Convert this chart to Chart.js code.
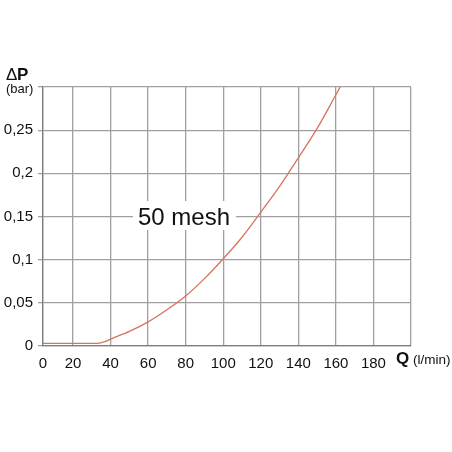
<!DOCTYPE html>
<html>
<head>
<meta charset="utf-8">
<script src="https://cdn.jsdelivr.net/npm/chart.js@4/dist/chart.umd.min.js"></script>
<style>
  body { margin: 0; background: #fff; }
  canvas { display: block; }
</style>
</head>
<body>
<canvas id="dpChart" width="452" height="452"></canvas>
<script>
// flow Q (l/min) and pressure drop (bar)
var flowValues = [0, 20, 33, 37, 40, 50, 60, 70, 80, 90, 100, 110, 120, 130, 140, 150, 160, 162.3];
var dpValues   = [0.003, 0.003, 0.003, 0.005, 0.008, 0.017, 0.028, 0.042, 0.058, 0.078, 0.101, 0.126, 0.155, 0.185, 0.218, 0.252, 0.291, 0.3];

var xTickValues = [0, 20, 40, 60, 80, 100, 120, 140, 160, 180, 200];
var xTickLabels = ['0', '20', '40', '60', '80', '100', '120', '140', '160', '180', ''];
var yTickLabels = ['0', '0,05', '0,1', '0,15', '0,2', '0,25', ''];

var curveLabel = '50 mesh';
var FONT = "'Liberation Sans', Arial, sans-serif";

// the first column of the original grid is narrower than the others
var X_START = 4;

var textPlugin = {
    id: 'texts',
    beforeDatasetsDraw: function(chart) {
        var ctx = chart.ctx;
        ctx.save();
        ctx.fillStyle = '#fff';
        ctx.fillRect(133, 201, 103, 29);
        ctx.fillStyle = '#111';
        ctx.font = '24px ' + FONT;
        ctx.textBaseline = 'alphabetic';
        ctx.fillText(curveLabel, 138, 224.5);
        ctx.restore();
    },
    afterDraw: function(chart) {
        var ctx = chart.ctx;
        ctx.save();
        ctx.fillStyle = '#111';
        ctx.textBaseline = 'alphabetic';
        ctx.font = '17px ' + FONT;
        ctx.fillText('\u0394', 6, 80);
        ctx.font = 'bold 17px ' + FONT;
        ctx.fillText('P', 17, 80);
        ctx.font = '13px ' + FONT;
        ctx.fillText('(bar)', 6, 93);
        ctx.font = 'bold 17px ' + FONT;
        ctx.fillText('Q', 396, 364);
        ctx.font = '13.5px ' + FONT;
        ctx.fillText('(l/min)', 413, 364);
        ctx.restore();
    }
};

var ctx = document.getElementById('dpChart').getContext('2d');
var chart = new Chart(ctx, {
    type: 'line',
    data: {
        datasets: [{
            data: flowValues.map(function(q, i) { return { x: q, y: dpValues[i] }; }),
            borderColor: '#d6735f',
            borderWidth: 1.3,
            pointRadius: 0,
            cubicInterpolationMode: 'monotone',
            fill: false
        }]
    },
    options: {
        responsive: false,
        animation: false,
        layout: { padding: { top: 87, right: 41, bottom: 76, left: 0 } },
        plugins: { legend: { display: false }, tooltip: { enabled: false } },
        scales: {
            x: {
                type: 'linear',
                min: X_START,
                max: 200,
                afterBuildTicks: function(scale) {
                    scale.ticks = xTickValues.map(function(v) { return { value: Math.max(v, X_START) }; });
                },
                afterFit: function(scale) { scale.height = 30; },
                grid: { color: '#a0a0a0', lineWidth: 1.3, drawTicks: false },
                border: { color: '#7d7d7d', width: 1.3 },
                ticks: {
                    padding: 9,
                    color: '#111',
                    font: { family: FONT, size: 15 },
                    maxRotation: 0,
                    autoSkip: false,
                    callback: function(v, i) { return xTickLabels[i]; }
                }
            },
            y: {
                min: 0,
                max: 0.3,
                afterFit: function(scale) { scale.width = 43; },
                grid: { color: '#a0a0a0', lineWidth: 1.3, tickLength: 5 },
                border: { color: '#7d7d7d', width: 1.3 },
                ticks: {
                    stepSize: 0.05,
                    padding: 5,
                    color: '#111',
                    font: { family: FONT, size: 15 },
                    callback: function(v, i) { return yTickLabels[i]; }
                }
            }
        }
    },
    plugins: [textPlugin]
});
</script>
</body>
</html>
